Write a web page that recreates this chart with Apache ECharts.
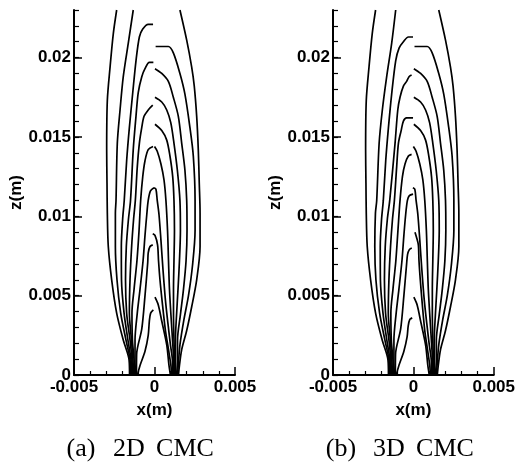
<!DOCTYPE html>
<html>
<head>
<meta charset="utf-8">
<script src="https://cdn.jsdelivr.net/npm/echarts@6/dist/echarts.min.js"></script>
<style>
  html, body { margin: 0; padding: 0; background: #fff; }
  #chart { width: 518px; height: 473px; }
</style>
</head>
<body>
<div id="chart"></div>
<script>
// tick labels
var xTicks = [-0.005, 0, 0.005];
var zTicks = [0, 0.005, 0.01, 0.015, 0.02];
var captions = [['(a)', '2D', 'CMC'], ['(b)', '3D', 'CMC']];

// ---- (a) 2D CMC : left halves of the contours (x, z in m)
var a_L1 = [[-0.00155,0],[-0.00158,0.00095],[-0.00194,0.0022],[-0.00235,0.0039],[-0.00266,0.006],[-0.00287,0.0081],[-0.00293,0.0102],[-0.00295,0.0121],[-0.00297,0.0142],[-0.00293,0.0173],[-0.00276,0.0194],[-0.00256,0.0215],[-0.00235,0.023]];
var a_L2 = [[-0.00149,0],[-0.00152,0.00095],[-0.00177,0.0022],[-0.0021,0.0039],[-0.00233,0.006],[-0.00243,0.0081],[-0.00243,0.0102],[-0.00239,0.011],[-0.00231,0.0146],[-0.00214,0.0167],[-0.00194,0.0188],[-0.00163,0.0209],[-0.00132,0.023]];
var a_L3 = [[-0.00143,0],[-0.00146,0.00095],[-0.00165,0.0022],[-0.00189,0.0039],[-0.00205,0.006],[-0.00206,0.0081],[-0.00198,0.0098],[-0.00188,0.011],[-0.00173,0.0135],[-0.00156,0.0156],[-0.00135,0.0178],[-0.00115,0.0198],[-0.00094,0.0213],[-0.00073,0.0218],[-0.00039,0.0221],[-0.00009,0.0221]];
var a_L4 = [[-0.00137,0],[-0.0014,0.00095],[-0.00152,0.0022],[-0.00173,0.0039],[-0.0018,0.006],[-0.00175,0.0081],[-0.00162,0.0098],[-0.00149,0.011],[-0.00132,0.0142],[-0.00115,0.0163],[-0.00101,0.0178],[-0.00079,0.0188],[-0.00059,0.0193],[-0.00032,0.0197],[-0.00007,0.0197]];
var a_L5 = [[-0.0013,0],[-0.00134,0.00095],[-0.00143,0.0022],[-0.00156,0.0039],[-0.00152,0.006],[-0.00142,0.0081],[-0.0013,0.0098],[-0.00119,0.011],[-0.00107,0.0131],[-0.00094,0.0146],[-0.00079,0.0156],[-0.00065,0.0163],[-0.00039,0.0167],[-0.00011,0.017]];
var a_L6 = [[-0.00124,0],[-0.00127,0.00095],[-0.00137,0.0022],[-0.0014,0.0039],[-0.00127,0.0054],[-0.00109,0.0072],[-0.00096,0.0091],[-0.00086,0.011],[-0.00073,0.0125],[-0.00059,0.0135],[-0.00039,0.0142],[-0.00009,0.0144]];
var a_L7 = [[-0.00118,0],[-0.00121,0.00095],[-0.00121,0.0022],[-0.00107,0.0039],[-0.0009,0.0054],[-0.00071,0.0072],[-0.00059,0.0088],[-0.00048,0.0101],[-0.00039,0.011],[-0.00025,0.0116],[-0.00003,0.0118]];
var a_L8 = [[-0.00112,0],[-0.00111,0.0013],[-0.00079,0.0029],[-0.00059,0.005],[-0.00042,0.0071],[-0.00039,0.0077],[-0.00028,0.0081],[-0.00011,0.0082]];
var a_L9 = [[-0.00106,0],[-0.0009,0.0006],[-0.00059,0.0015],[-0.00039,0.0025],[-0.00032,0.0034],[-0.00024,0.0039],[-0.00007,0.0041]];

// right halves
var a_R1 = [[0.00158,0.023],[0.002,0.0211],[0.00231,0.0194],[0.00247,0.0182],[0.00262,0.0163],[0.00272,0.0142],[0.00278,0.0121],[0.00283,0.0102],[0.00283,0.0081],[0.00262,0.006],[0.00231,0.0043],[0.002,0.0028],[0.00169,0.0016],[0.00155,0.0006],[0.00149,0]];
var a_R2 = [[0.00007,0.0207],[0.00086,0.0207],[0.00117,0.0203],[0.00158,0.019],[0.00189,0.0177],[0.0022,0.0156],[0.00241,0.0138],[0.00252,0.011],[0.00252,0.0091],[0.00236,0.0069],[0.00211,0.005],[0.00183,0.0035],[0.00158,0.0019],[0.00149,0.0008],[0.00143,0]];
var a_R3 = [[0.00003,0.0193],[0.00045,0.019],[0.00086,0.0185],[0.00117,0.0175],[0.00148,0.0163],[0.00169,0.0146],[0.00189,0.0129],[0.002,0.011],[0.00202,0.0091],[0.00196,0.0072],[0.0018,0.0054],[0.00161,0.0038],[0.00143,0.0022],[0.00143,0.001],[0.00137,0]];
var a_R4 = [[0.00003,0.0175],[0.00045,0.0172],[0.00076,0.0167],[0.00101,0.0159],[0.00121,0.0146],[0.00142,0.0129],[0.00158,0.011],[0.00161,0.0091],[0.00155,0.0072],[0.00146,0.0054],[0.00137,0.0038],[0.0013,0.0022],[0.0013,0.001],[0.0013,0]];
var a_R5 = [[0.00003,0.0158],[0.00045,0.0154],[0.00076,0.0148],[0.00096,0.0138],[0.00113,0.0125],[0.00121,0.011],[0.00124,0.0091],[0.00121,0.0072],[0.00118,0.0054],[0.00118,0.0038],[0.00121,0.0022],[0.00124,0.001],[0.00124,0]];
var a_R6 = [[0,0.0144],[0.00017,0.0141],[0.0004,0.0133],[0.00059,0.0123],[0.00071,0.011],[0.00081,0.0091],[0.00087,0.0072],[0.00093,0.0054],[0.00102,0.0038],[0.00112,0.0022],[0.00118,0.001],[0.00118,0]];
var a_R7 = [[-0.00003,0.0118],[0.00009,0.0117],[0.00017,0.011],[0.00028,0.0101],[0.0004,0.0085],[0.00053,0.0066],[0.00068,0.0047],[0.00084,0.0032],[0.00099,0.0019],[0.00112,0.0008],[0.00112,0]];
var a_R8 = [[-0.00011,0.0089],[0.00003,0.0088],[0.00019,0.0082],[0.00025,0.0072],[0.00034,0.006],[0.0005,0.0044],[0.00068,0.0028],[0.00087,0.0016],[0.00102,0.0006],[0.00106,0]];
var a_R9 = [[0.00003,0.0049],[0.00024,0.0044],[0.00045,0.0034],[0.00076,0.0019],[0.0009,0.0006],[0.00099,0]];

// ---- (b) 3D CMC : only the lines that differ from (a)
var b_L2 = [[-0.00149,0],[-0.00152,0.00095],[-0.00177,0.0022],[-0.0021,0.0039],[-0.00233,0.006],[-0.0024,0.0081],[-0.00236,0.0102],[-0.00228,0.011],[-0.00213,0.0146],[-0.00193,0.0167],[-0.00166,0.0188],[-0.00135,0.0209],[-0.0011,0.023]];
var b_L3 = [[-0.00143,0],[-0.00146,0.00095],[-0.00165,0.0022],[-0.00189,0.0039],[-0.00205,0.006],[-0.00206,0.0081],[-0.00198,0.0098],[-0.00187,0.011],[-0.00172,0.0135],[-0.00155,0.0156],[-0.00135,0.0177],[-0.0011,0.0198],[-0.00089,0.0206],[-0.00062,0.021],[-0.00031,0.0213],[-0.00002,0.0213]];
var b_L4 = [[-0.00137,0],[-0.0014,0.00095],[-0.00152,0.0022],[-0.00173,0.0039],[-0.0018,0.006],[-0.00175,0.0081],[-0.00162,0.0098],[-0.00147,0.011],[-0.00114,0.0146],[-0.00097,0.0167],[-0.00083,0.0175],[-0.00062,0.0182],[-0.00042,0.0185],[-0.00027,0.0188],[-0.00011,0.0189]];
var b_L5 = [[-0.0013,0],[-0.00134,0.00095],[-0.00143,0.0022],[-0.00156,0.0039],[-0.00152,0.006],[-0.00142,0.0081],[-0.0013,0.0098],[-0.00118,0.011],[-0.00104,0.0131],[-0.00093,0.0146],[-0.00076,0.0154],[-0.00062,0.016],[-0.00042,0.0162],[-0.00002,0.0162]];
var b_L6 = [[-0.00124,0],[-0.00127,0.00095],[-0.00137,0.0022],[-0.0014,0.0039],[-0.00127,0.0054],[-0.00109,0.0072],[-0.00096,0.0091],[-0.00083,0.011],[-0.00068,0.0125],[-0.00052,0.0133],[-0.00031,0.0138],[-0.00011,0.0139]];
var b_L7 = [[-0.00118,0],[-0.00121,0.00095],[-0.00121,0.0022],[-0.00107,0.0039],[-0.0009,0.0054],[-0.00071,0.0072],[-0.00059,0.0088],[-0.00048,0.0101],[-0.00037,0.011],[-0.00025,0.0113],[-0.00002,0.0114]];
var b_L8 = [[-0.00112,0],[-0.00111,0.0013],[-0.00079,0.0029],[-0.00059,0.005],[-0.00042,0.007],[-0.00036,0.0076],[-0.00025,0.0079],[-0.0001,0.008]];
var b_L9 = [[-0.00106,0],[-0.0009,0.0006],[-0.00059,0.0015],[-0.00039,0.0024],[-0.00032,0.0031],[-0.00022,0.0035],[-0.00007,0.0036]];
var b_R8 = [[0.0001,0.009],[0.00019,0.0087],[0.00031,0.0082],[0.00035,0.0072],[0.00043,0.006],[0.00056,0.0044],[0.00071,0.0028],[0.00088,0.0016],[0.00102,0.0006],[0.00106,0]];

var panelLines = [
  [a_L1, a_L2, a_L3, a_L4, a_L5, a_L6, a_L7, a_L8, a_L9, a_R1, a_R2, a_R3, a_R4, a_R5, a_R6, a_R7, a_R8, a_R9],
  [a_L1, b_L2, b_L3, b_L4, b_L5, b_L6, b_L7, b_L8, b_L9, a_R1, a_R2, a_R3, a_R4, a_R5, a_R6, a_R7, b_R8, a_R9]
];

var gridLefts = [74, 333];
var sans = 'Liberation Sans, Arial, Helvetica, sans-serif';
var labelStyle = { color: '#000', fontFamily: sans, fontWeight: 'bold', fontSize: 17 };

var grids = [], xAxes = [], yAxes = [], series = [], graphics = [];

gridLefts.forEach(function (left, i) {
  grids.push({ left: left, top: 10, width: 161, height: 365 });
  xAxes.push({
    gridIndex: i, type: 'value', min: -0.005, max: 0.005, interval: 0.005,
    axisLine: { onZero: false, lineStyle: { color: '#000', width: 2 } },
    axisTick: { inside: true, length: 8, lineStyle: { color: '#000', width: 1.5 } },
    minorTick: { show: true, splitNumber: 5, length: 4, lineStyle: { color: '#000', width: 1.2 } },
    splitLine: { show: false },
    axisLabel: Object.assign({ margin: 4 }, labelStyle),
    name: 'x(m)', nameLocation: 'middle', nameGap: 27,
    nameTextStyle: Object.assign({}, labelStyle)
  });
  // fine ticks every 0.001
  yAxes.push({
    gridIndex: i, type: 'value', min: 0, max: 0.023, interval: 0.001,
    axisLine: { show: true, onZero: false, lineStyle: { color: '#000', width: 2 } },
    axisTick: { inside: true, length: 5, lineStyle: { color: '#000', width: 1.2 } },
    axisLabel: { show: false },
    splitLine: { show: false }
  });
  // labelled ticks
  yAxes.push({
    gridIndex: i, type: 'value', min: 0, max: 0.023, position: 'left', offset: 0,
    axisLine: { show: false, onZero: false },
    axisTick: { show: true, inside: true, length: 8, customValues: zTicks, lineStyle: { color: '#000', width: 1.5 } },
    axisLabel: Object.assign({ margin: 3, customValues: zTicks }, labelStyle),
    splitLine: { show: false },
    name: 'z(m)', nameLocation: 'middle', nameGap: 39,
    nameTextStyle: Object.assign({}, labelStyle)
  });
  panelLines[i].forEach(function (d) {
    series.push({
      type: 'line', xAxisIndex: i, yAxisIndex: i * 2, data: d,
      showSymbol: false, smooth: 0.3, silent: true, clip: true,
      lineStyle: { color: '#000', width: 1.7 }
    });
  });
});

// captions under each panel
var capX = [[81, 129, 185], [341, 389, 445]];
captions.forEach(function (words, i) {
  words.forEach(function (w, j) {
    graphics.push({
      type: 'text', x: capX[i][j], y: 449,
      style: { text: w, fill: '#000', font: '26px "Liberation Serif", "Times New Roman", serif', textAlign: 'center', textVerticalAlign: 'middle' }
    });
  });
});

var chart = echarts.init(document.getElementById('chart'));
chart.setOption({
  animation: false,
  backgroundColor: '#fff',
  grid: grids,
  xAxis: xAxes,
  yAxis: yAxes,
  series: series,
  graphic: graphics
});
</script>
</body>
</html>
